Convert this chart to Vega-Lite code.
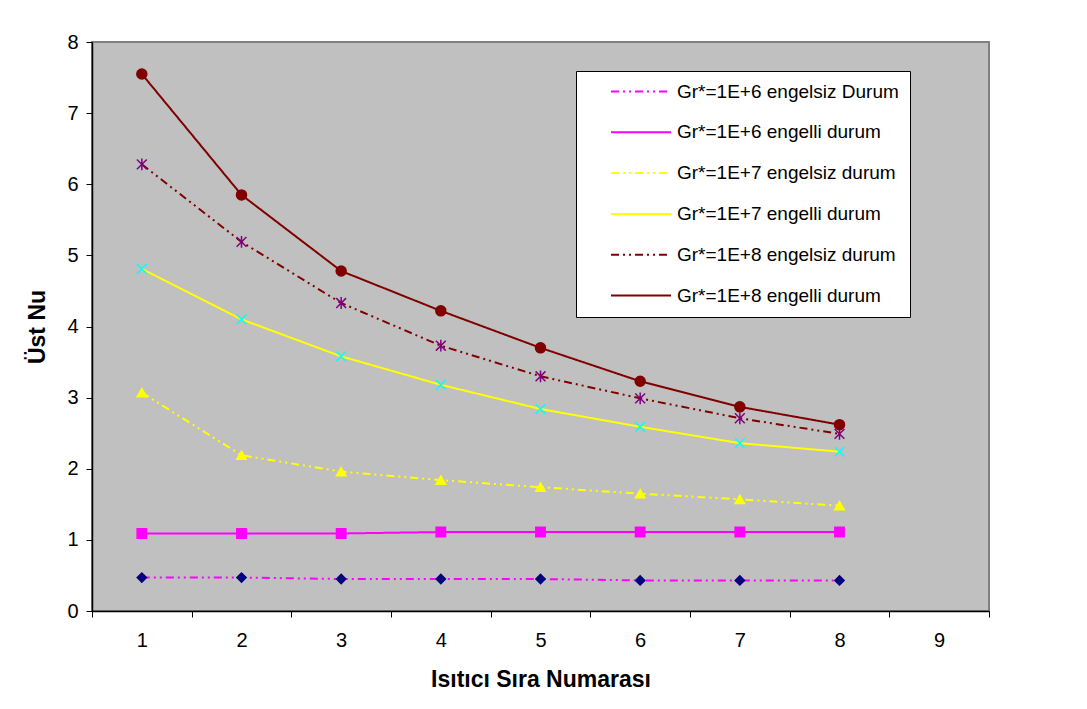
{
  "$schema": "https://vega.github.io/schema/vega-lite/v6.json",
  "width": 897,
  "height": 569,
  "autosize": {"type": "none"},
  "padding": {"left": 92, "top": 42, "right": 98, "bottom": 98},
  "background": "white",
  "config": {
    "font": "Liberation Sans",
    "view": {"fill": "#C0C0C0", "stroke": "#808080", "strokeWidth": 2},
    "axis": {
      "grid": false,
      "labelFont": "Liberation Sans",
      "titleFont": "Liberation Sans",
      "labelColor": "black",
      "titleColor": "black",
      "domainColor": "black",
      "domainWidth": 1.5,
      "tickColor": "black",
      "tickWidth": 1,
      "labelFontSize": 20,
      "titleFontSize": 23,
      "titleFontWeight": "bold"
    }
  },
  "data": {
    "values": [
      {"n": 1, "nu": 0.47, "seri": "Gr*=1E+6 engelsiz Durum", "sira": 1},
      {"n": 2, "nu": 0.47, "seri": "Gr*=1E+6 engelsiz Durum", "sira": 1},
      {"n": 3, "nu": 0.45, "seri": "Gr*=1E+6 engelsiz Durum", "sira": 1},
      {"n": 4, "nu": 0.45, "seri": "Gr*=1E+6 engelsiz Durum", "sira": 1},
      {"n": 5, "nu": 0.45, "seri": "Gr*=1E+6 engelsiz Durum", "sira": 1},
      {"n": 6, "nu": 0.43, "seri": "Gr*=1E+6 engelsiz Durum", "sira": 1},
      {"n": 7, "nu": 0.43, "seri": "Gr*=1E+6 engelsiz Durum", "sira": 1},
      {"n": 8, "nu": 0.43, "seri": "Gr*=1E+6 engelsiz Durum", "sira": 1},
      {"n": 1, "nu": 1.09, "seri": "Gr*=1E+6 engelli durum", "sira": 2},
      {"n": 2, "nu": 1.09, "seri": "Gr*=1E+6 engelli durum", "sira": 2},
      {"n": 3, "nu": 1.09, "seri": "Gr*=1E+6 engelli durum", "sira": 2},
      {"n": 4, "nu": 1.11, "seri": "Gr*=1E+6 engelli durum", "sira": 2},
      {"n": 5, "nu": 1.11, "seri": "Gr*=1E+6 engelli durum", "sira": 2},
      {"n": 6, "nu": 1.11, "seri": "Gr*=1E+6 engelli durum", "sira": 2},
      {"n": 7, "nu": 1.11, "seri": "Gr*=1E+6 engelli durum", "sira": 2},
      {"n": 8, "nu": 1.11, "seri": "Gr*=1E+6 engelli durum", "sira": 2},
      {"n": 1, "nu": 3.07, "seri": "Gr*=1E+7 engelsiz durum", "sira": 3},
      {"n": 2, "nu": 2.19, "seri": "Gr*=1E+7 engelsiz durum", "sira": 3},
      {"n": 3, "nu": 1.96, "seri": "Gr*=1E+7 engelsiz durum", "sira": 3},
      {"n": 4, "nu": 1.84, "seri": "Gr*=1E+7 engelsiz durum", "sira": 3},
      {"n": 5, "nu": 1.74, "seri": "Gr*=1E+7 engelsiz durum", "sira": 3},
      {"n": 6, "nu": 1.65, "seri": "Gr*=1E+7 engelsiz durum", "sira": 3},
      {"n": 7, "nu": 1.57, "seri": "Gr*=1E+7 engelsiz durum", "sira": 3},
      {"n": 8, "nu": 1.48, "seri": "Gr*=1E+7 engelsiz durum", "sira": 3},
      {"n": 1, "nu": 4.81, "seri": "Gr*=1E+7 engelli durum", "sira": 4},
      {"n": 2, "nu": 4.10, "seri": "Gr*=1E+7 engelli durum", "sira": 4},
      {"n": 3, "nu": 3.58, "seri": "Gr*=1E+7 engelli durum", "sira": 4},
      {"n": 4, "nu": 3.18, "seri": "Gr*=1E+7 engelli durum", "sira": 4},
      {"n": 5, "nu": 2.84, "seri": "Gr*=1E+7 engelli durum", "sira": 4},
      {"n": 6, "nu": 2.59, "seri": "Gr*=1E+7 engelli durum", "sira": 4},
      {"n": 7, "nu": 2.36, "seri": "Gr*=1E+7 engelli durum", "sira": 4},
      {"n": 8, "nu": 2.24, "seri": "Gr*=1E+7 engelli durum", "sira": 4},
      {"n": 1, "nu": 6.28, "seri": "Gr*=1E+8 engelsiz durum", "sira": 5},
      {"n": 2, "nu": 5.19, "seri": "Gr*=1E+8 engelsiz durum", "sira": 5},
      {"n": 3, "nu": 4.33, "seri": "Gr*=1E+8 engelsiz durum", "sira": 5},
      {"n": 4, "nu": 3.73, "seri": "Gr*=1E+8 engelsiz durum", "sira": 5},
      {"n": 5, "nu": 3.30, "seri": "Gr*=1E+8 engelsiz durum", "sira": 5},
      {"n": 6, "nu": 2.99, "seri": "Gr*=1E+8 engelsiz durum", "sira": 5},
      {"n": 7, "nu": 2.71, "seri": "Gr*=1E+8 engelsiz durum", "sira": 5},
      {"n": 8, "nu": 2.49, "seri": "Gr*=1E+8 engelsiz durum", "sira": 5},
      {"n": 1, "nu": 7.55, "seri": "Gr*=1E+8 engelli durum", "sira": 6},
      {"n": 2, "nu": 5.85, "seri": "Gr*=1E+8 engelli durum", "sira": 6},
      {"n": 3, "nu": 4.78, "seri": "Gr*=1E+8 engelli durum", "sira": 6},
      {"n": 4, "nu": 4.22, "seri": "Gr*=1E+8 engelli durum", "sira": 6},
      {"n": 5, "nu": 3.70, "seri": "Gr*=1E+8 engelli durum", "sira": 6},
      {"n": 6, "nu": 3.23, "seri": "Gr*=1E+8 engelli durum", "sira": 6},
      {"n": 7, "nu": 2.87, "seri": "Gr*=1E+8 engelli durum", "sira": 6},
      {"n": 8, "nu": 2.62, "seri": "Gr*=1E+8 engelli durum", "sira": 6}
    ]
  },
  "layer": [
    {
      "mark": {"type": "line", "strokeWidth": 2, "opacity": 1},
      "encoding": {
        "x": {
          "field": "n", "type": "quantitative",
          "scale": {"domain": [0.5, 9.5], "nice": false, "zero": false},
          "axis": {
            "title": "Isıtıcı Sıra Numarası",
            "values": [0.5, 1.5, 2.5, 3.5, 4.5, 5.5, 6.5, 7.5, 8.5, 9.5],
            "labelExpr": "datum.value < 9 ? format(datum.value + 0.5, 'd') : ''",
            "labelOffset": 49.83,
            "labelFlush": false,
            "labelOverlap": false,
            "tickSize": 6,
            "labelPadding": 13,
            "titlePadding": 18
          }
        },
        "y": {
          "field": "nu", "type": "quantitative",
          "scale": {"domain": [0, 8], "nice": false},
          "axis": {
            "title": "Üst Nu",
            "values": [0, 1, 2, 3, 4, 5, 6, 7, 8],
            "format": "d",
            "tickSize": 6,
            "labelPadding": 8,
            "titlePadding": 17
          }
        },
        "stroke": {
          "field": "seri", "type": "nominal",
          "scale": {
            "domain": ["Gr*=1E+6 engelsiz Durum", "Gr*=1E+6 engelli durum", "Gr*=1E+7 engelsiz durum", "Gr*=1E+7 engelli durum", "Gr*=1E+8 engelsiz durum", "Gr*=1E+8 engelli durum"],
            "range": ["#FF00FF", "#FF00FF", "#FFFF00", "#FFFF00", "#800000", "#800000"]
          },
          "legend": {
            "title": null, "orient": "none", "legendX": 484, "legendY": 29,
            "padding": 11, "fillColor": "white", "strokeColor": "black",
            "labelFontSize": 19, "labelFont": "Liberation Sans", "labelColor": "black", "labelLimit": 500,
            "symbolType": "M-6,0H6", "symbolSize": 100, "symbolStrokeWidth": 2,
            "symbolOffset": 44.5, "labelOffset": 26.5, "rowPadding": 20.8, "symbolOpacity": 1
          }
        },
        "strokeDash": {
          "field": "seri", "type": "nominal",
          "scale": {
            "domain": ["Gr*=1E+6 engelsiz Durum", "Gr*=1E+6 engelli durum", "Gr*=1E+7 engelsiz durum", "Gr*=1E+7 engelli durum", "Gr*=1E+8 engelsiz durum", "Gr*=1E+8 engelli durum"],
            "range": [[8, 4, 2, 4, 2, 4], [1, 0], [8, 4, 2, 4, 2, 4], [1, 0], [8, 4, 2, 4, 2, 4], [1, 0]]
          },
          "legend": {
            "title": null, "orient": "none", "legendX": 484, "legendY": 29,
            "padding": 11, "fillColor": "white", "strokeColor": "black",
            "labelFontSize": 19, "labelFont": "Liberation Sans", "labelColor": "black", "labelLimit": 500,
            "symbolType": "M-6,0H6", "symbolSize": 100, "symbolStrokeWidth": 2,
            "symbolOffset": 44.5, "labelOffset": 26.5, "rowPadding": 20.8, "symbolOpacity": 1
          }
        }
      }
    },
    {
      "mark": {"type": "point", "filled": true, "opacity": 1, "strokeWidth": 1.5},
      "encoding": {
        "x": {"field": "n", "type": "quantitative"},
        "y": {"field": "nu", "type": "quantitative"},
        "shape": {
          "field": "seri", "type": "nominal",
          "sort": {"field": "sira", "op": "min"},
          "scale": {
            "range": ["diamond", "square", "triangle-up", "M-1,-1L1,1M1,-1L-1,1", "M-1,-1L1,1M1,-1L-1,1M0,-1.2L0,1.2", "circle"]
          },
          "legend": {
            "title": null, "orient": "none", "legendX": 484, "legendY": 29,
            "padding": 11,
            "labelFontSize": 19, "labelFont": "Liberation Sans", "labelOpacity": 0, "labelLimit": 500,
            "symbolSize": 85, "symbolStrokeWidth": 1.5,
            "symbolOffset": 44.5, "labelOffset": 26.5, "rowPadding": 20.8, "symbolOpacity": 1
          }
        },
        "fill": {
          "field": "seri", "type": "nominal",
          "sort": {"field": "sira", "op": "min"},
          "scale": {
            "range": ["#000080", "#FF00FF", "#FFFF00", "transparent", "transparent", "#800000"]
          },
          "legend": {
            "title": null, "orient": "none", "legendX": 484, "legendY": 29,
            "padding": 11,
            "labelFontSize": 19, "labelFont": "Liberation Sans", "labelOpacity": 0, "labelLimit": 500,
            "symbolSize": 85, "symbolStrokeWidth": 1.5,
            "symbolOffset": 44.5, "labelOffset": 26.5, "rowPadding": 20.8, "symbolOpacity": 1
          }
        },
        "stroke": {
          "field": "seri", "type": "nominal",
          "sort": {"field": "sira", "op": "min"},
          "scale": {
            "range": ["#000080", "#FF00FF", "#FFFF00", "#00FFFF", "#800080", "#800000"]
          },
          "legend": {
            "title": null, "orient": "none", "legendX": 484, "legendY": 29,
            "padding": 11,
            "labelFontSize": 19, "labelFont": "Liberation Sans", "labelOpacity": 0, "labelLimit": 500,
            "symbolSize": 85, "symbolStrokeWidth": 1.5,
            "symbolOffset": 44.5, "labelOffset": 26.5, "rowPadding": 20.8, "symbolOpacity": 1
          }
        },
        "size": {
          "field": "seri", "type": "nominal",
          "sort": {"field": "sira", "op": "min"},
          "scale": {
            "range": [85, 100, 115, 110, 100, 70]
          },
          "legend": null
        }
      }
    }
  ],
  "resolve": {
    "scale": {"stroke": "independent", "strokeDash": "independent", "fill": "independent", "shape": "independent", "size": "independent"}
  }
}
